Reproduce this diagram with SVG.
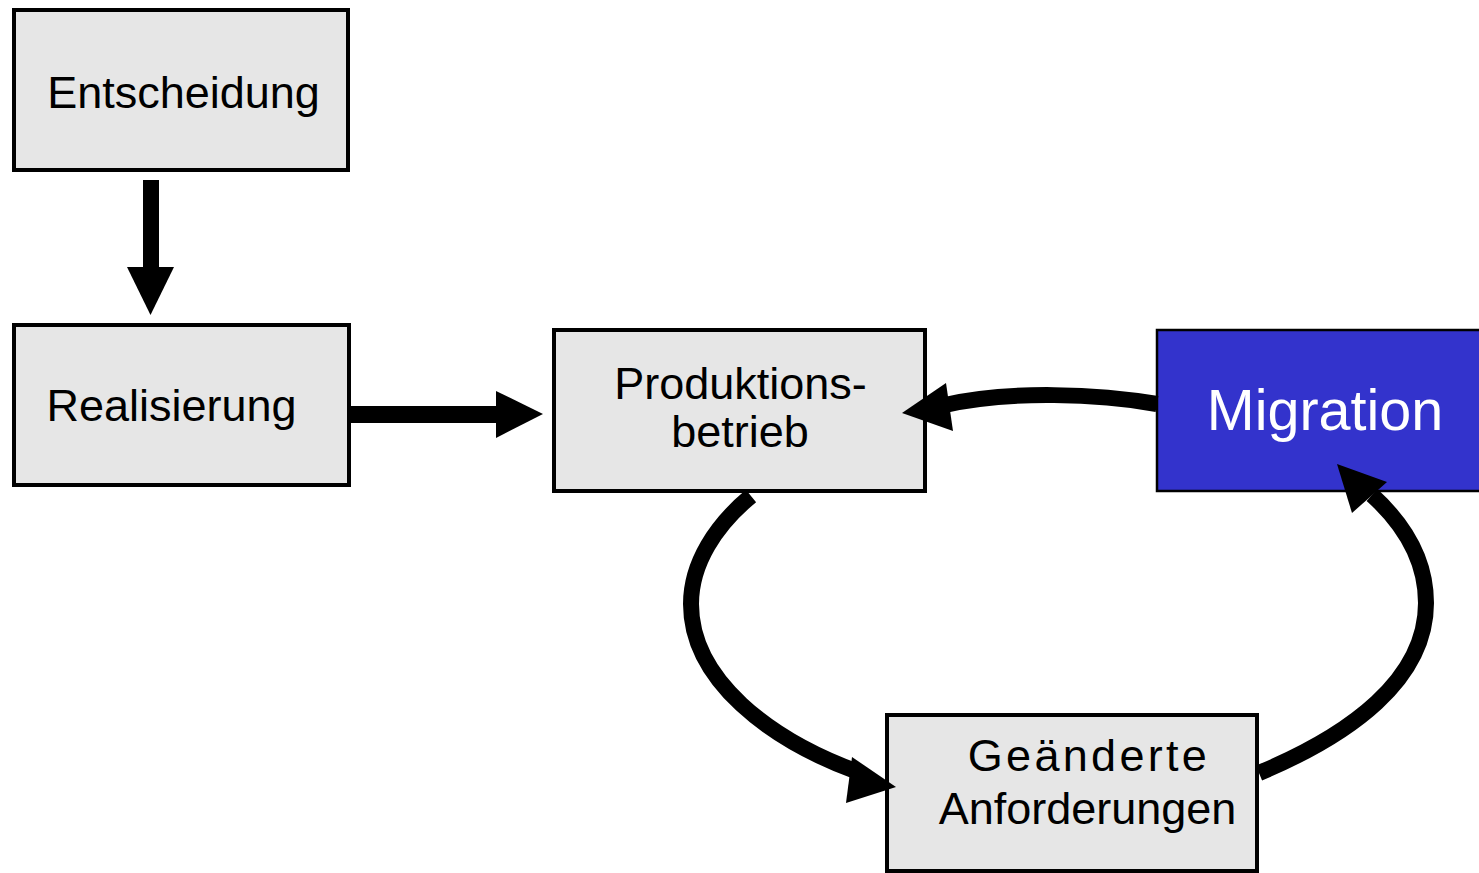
<svg xmlns="http://www.w3.org/2000/svg" width="1479" height="873" viewBox="0 0 1479 873">
<style>
.box{fill:#e6e6e6;stroke:#000;stroke-width:4}
.mig{fill:#3333cc;stroke:#000;stroke-width:2.5}
.t{font-family:"Liberation Sans",Arial,sans-serif;font-size:45px;fill:#000}
.tw{font-family:"Liberation Sans",Arial,sans-serif;font-size:57.5px;fill:#fff}
.shaft{fill:none;stroke:#000;stroke-width:16}
.head{fill:#000;stroke:none}
</style>
<rect width="1479" height="873" fill="#fff"/>
<g id="entscheidung">
<rect class="box" x="14" y="10" width="334" height="160"/>
<text class="t" x="183.5" y="108" text-anchor="middle">Entscheidung</text>
</g>
<g id="realisierung">
<rect class="box" x="14" y="325" width="335" height="160"/>
<text class="t" x="171.5" y="421" text-anchor="middle">Realisierung</text>
</g>
<g id="produktionsbetrieb">
<rect class="box" x="554" y="330" width="371" height="161"/>
<text class="t" x="740.5" y="399" text-anchor="middle">Produktions-</text>
<text class="t" x="740" y="447" text-anchor="middle">betrieb</text>
</g>
<g id="migration">
<rect class="mig" x="1157" y="330" width="325" height="161"/>
<text class="tw" x="1325" y="430" text-anchor="middle">Migration</text>
</g>
<g id="geaenderte">
<rect class="box" x="887" y="715" width="370" height="156"/>
<text class="t" x="1089" y="771" text-anchor="middle" letter-spacing="3.3">Geänderte</text>
<text class="t" x="1087.5" y="824" text-anchor="middle">Anforderungen</text>
</g>
<g id="connectors">
<rect class="head" x="143" y="180" width="16" height="88"/>
<polygon class="head" points="127,267 174,267 150.5,315"/>
<rect class="head" x="350" y="406" width="147" height="17"/>
<polygon class="head" points="496,391 496,438 543,414"/>
<path class="shaft" d="M1157,404 C1100,394 1010,390 945,405"/>
<polygon class="head" points="902,413 946,383 953,431"/>
<path class="shaft" d="M751,496 C716,525 691,563 691,604 C691,680 770,740 858,772"/>
<polygon class="head" points="896,787 852,757 846,803"/>
<path class="shaft" d="M1259,773 C1350,735 1426,680 1426,603 C1426,560 1405,525 1372,495"/>
<polygon class="head" points="1337,464 1387,482 1352,513"/>
</g>
</svg>
